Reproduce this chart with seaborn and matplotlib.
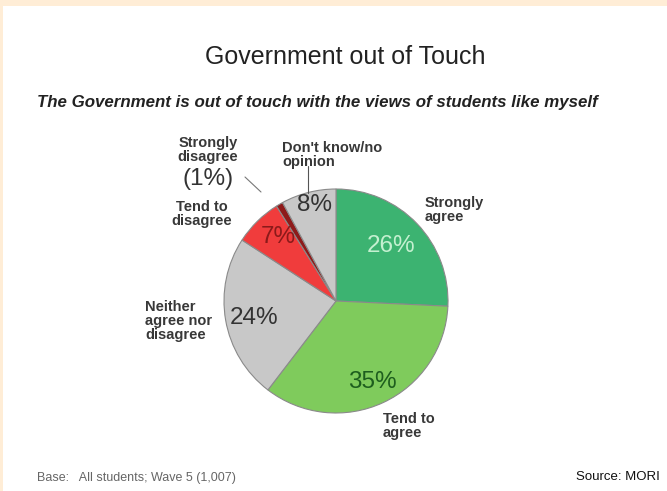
import matplotlib
matplotlib.use("Agg")
import matplotlib.pyplot as plt
import seaborn as sns

sns.set_theme(style="white")
plt.rcParams["font.family"] = ["Liberation Sans", "DejaVu Sans"]

# Survey responses, clockwise from 12 o'clock
categories = ["Strongly agree", "Tend to agree", "Neither agree nor disagree",
              "Tend to disagree", "Strongly disagree", "Don't know/no opinion"]
values = [26, 35, 24, 7, 1, 8]
colors = ["#3CB371", "#7FCB5C", "#C8C8C8", "#F03C3C", "#8E1A1A", "#C8C8C8"]

W, H = 667, 491
fig = plt.figure(figsize=(W / 100, H / 100), dpi=100)
fig.patch.set_facecolor("#FFEDD6")

def fx(x):
    return x / W

def fy(y):
    return 1 - y / H

# white panel inside the beige frame
panel = fig.add_axes([fx(3), 0, 1 - fx(3), fy(6)])
panel.set_facecolor("white")
panel.set_xticks([]); panel.set_yticks([])
for s in panel.spines.values():
    s.set_visible(False)

# pie axes
cx, cy, r = 336, 301, 112
ax = fig.add_axes([fx(cx - r), fy(cy + r), 2 * r / W, 2 * r / H])
ax.pie(values, colors=colors, startangle=90, counterclock=False,
       wedgeprops=dict(edgecolor="#8a8a8a", linewidth=0.8))
ax.set_xlim(-1, 1); ax.set_ylim(-1, 1)
ax.set_aspect("auto")
ax.axis("off")

fig.text(fx(345), fy(57), "Government out of Touch", ha="center", va="center",
         fontsize=18, color="#222222")
fig.text(fx(37), fy(103), "The Government is out of touch with the views of students like myself",
         ha="left", va="center", fontsize=12.2, fontstyle="italic", fontweight="bold",
         color="#222222")

pct_style = dict(ha="center", va="center", fontsize=17.5)
fig.text(fx(391), fy(246), f"{values[0]}%", color="#C4F0D0", **pct_style)
fig.text(fx(372), fy(382), f"{values[1]}%", color="#1E5E1E", **pct_style)
fig.text(fx(254), fy(318), f"{values[2]}%", color="#333333", **pct_style)
fig.text(fx(278), fy(237), f"{values[3]}%", color="#8B1A1A", **pct_style)
fig.text(fx(315), fy(205), f"{values[5]}%", color="#333333", **pct_style)

lab = dict(fontsize=10.5, fontweight="bold", color="#383838", linespacing=1.0)
fig.text(fx(425), fy(210), "Strongly\nagree", ha="left", va="center", **lab)
fig.text(fx(383), fy(426), "Tend to\nagree", ha="left", va="center", **lab)
fig.text(fx(145), fy(321), "Neither\nagree nor\ndisagree", ha="left", va="center", **lab)
fig.text(fx(202), fy(214), "Tend to\ndisagree", ha="center", va="center", **lab)
fig.text(fx(208), fy(150), "Strongly\ndisagree", ha="center", va="center", **lab)
fig.text(fx(208), fy(179), f"({values[4]}%)", ha="center", va="center",
         fontsize=17.5, color="#333333")
fig.text(fx(282), fy(155), "Don't know/no\nopinion", ha="left", va="center", **lab)

# leader lines
fig.add_artist(plt.Line2D([fx(308), fx(308)], [fy(166), fy(193)], color="#555555", lw=0.8))
fig.add_artist(plt.Line2D([fx(245), fx(261)], [fy(177), fy(192)], color="#777777", lw=0.8))

fig.text(fx(37), fy(478), "Base:   All students; Wave 5 (1,007)", ha="left", va="center",
         fontsize=9, color="#666666")
fig.text(fx(660), fy(477), "Source: MORI", ha="right", va="center",
         fontsize=9.5, color="#111111")

fig.savefig("out.png", dpi=100)
